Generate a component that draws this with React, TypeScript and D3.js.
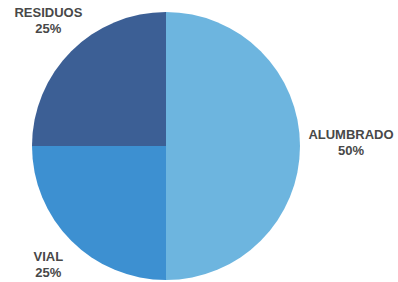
import React, { useEffect, useRef } from 'react';
import * as d3 from 'd3';

const labels = ['ALUMBRADO', 'VIAL', 'RESIDUOS'];
const values = [50, 25, 25];
const colors = ['#6db5df', '#3d90d1', '#3c5f95'];

const App = ({ width = 398, height = 282 }) => {
  const svgRef = useRef<SVGSVGElement>(null);

  useEffect(() => {
    if (!svgRef.current) return;
    const svg = d3.select(svgRef.current);
    svg.selectAll('*').remove();

    const cx = 166;
    const cy = 146;
    const radius = 134;

    const data = labels.map((label, i) => ({ label, value: values[i], color: colors[i] }));

    const pie = d3.pie<any>()
      .value(d => d.value)
      .sort(null);

    const arc = d3.arc<any>().innerRadius(0).outerRadius(radius);
    const labelArc = d3.arc<any>().innerRadius(172).outerRadius(172);

    const g = svg.append('g').attr('transform', `translate(${cx},${cy})`);

    const arcs = pie(data);

    g.selectAll('path')
      .data(arcs)
      .enter()
      .append('path')
      .attr('d', arc)
      .attr('fill', d => d.data.color);

    // labels sit outside the pie; right-hand label pushed a bit further out
    const text = g.selectAll('text.label')
      .data(arcs)
      .enter()
      .append('text')
      .attr('class', 'label')
      .attr('text-anchor', 'middle')
      .attr('font-family', '"Liberation Sans", Arial, sans-serif')
      .attr('font-weight', 'bold')
      .attr('font-size', '13px')
      .attr('fill', '#484848')
      .attr('transform', d => {
        const [x, y] = labelArc.centroid(d);
        const nudge = x > 0 ? 13 : 4;
        return `translate(${x + nudge},${y})`;
      });

    text.append('tspan')
      .attr('x', 0)
      .attr('y', -7)
      .text(d => d.data.label);

    text.append('tspan')
      .attr('x', 0)
      .attr('y', 9)
      .text(d => `${d.data.value}%`);
  }, [width, height]);

  return (
    <svg
      ref={svgRef}
      width={width}
      height={height}
      style={{ position: 'absolute', left: 0, top: 0, background: '#fff' }}
    />
  );
};

export default App;
